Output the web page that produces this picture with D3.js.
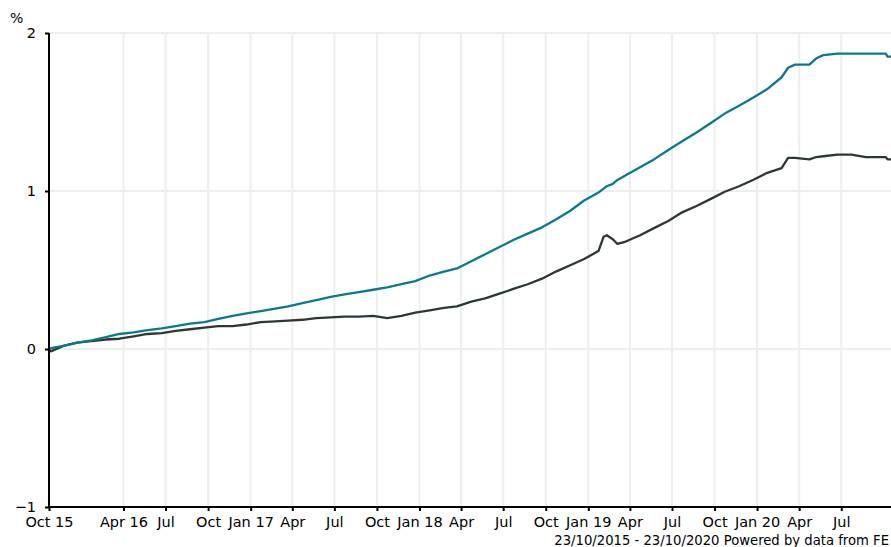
<!DOCTYPE html>
<html>
<head>
<meta charset="utf-8">
<script src="https://cdn.jsdelivr.net/npm/d3@7"></script>
<style>
  html, body { margin: 0; padding: 0; background: #fff; }
  svg { display: block; }
  text { font-family: "DejaVu Sans", Verdana, sans-serif; fill: #000; }
</style>
</head>
<body>
<svg id="chart" width="891" height="547"></svg>
<script>
// ---- data ----
const dates = [
  "2015-10-23","2015-10-27","2015-11-23","2015-12-23","2016-01-23","2016-02-23","2016-03-23",
  "2016-04-23","2016-05-23","2016-06-23","2016-07-23","2016-08-23","2016-09-23","2016-10-23",
  "2016-11-23","2016-12-23","2017-01-23","2017-02-23","2017-03-23","2017-04-23","2017-05-23",
  "2017-06-23","2017-07-23","2017-08-23","2017-09-23","2017-10-23","2017-11-23","2017-12-23",
  "2018-01-23","2018-02-23","2018-03-23","2018-04-23","2018-05-23","2018-06-23","2018-07-23",
  "2018-08-23","2018-09-23","2018-10-23","2018-11-23","2018-12-23","2019-01-23","2019-02-03",
  "2019-02-10","2019-02-23","2019-03-05","2019-03-23","2019-04-23","2019-05-23","2019-06-23",
  "2019-07-23","2019-08-23","2019-09-23","2019-10-23","2019-11-23","2019-12-23","2020-01-23",
  "2020-02-23","2020-03-08","2020-03-23","2020-04-23","2020-05-08","2020-05-23","2020-06-23",
  "2020-07-23","2020-08-23","2020-09-23","2020-10-05","2020-10-09","2020-10-23"
];
const tealValues = [
  0, 0.005, 0.02, 0.04, 0.055, 0.075, 0.095,
  0.105, 0.12, 0.13, 0.145, 0.16, 0.17, 0.19,
  0.21, 0.225, 0.24, 0.255, 0.27, 0.29, 0.31,
  0.33, 0.345, 0.36, 0.375, 0.39, 0.41, 0.43,
  0.465, 0.49, 0.51, 0.555, 0.60, 0.645, 0.69,
  0.73, 0.77, 0.82, 0.875, 0.94, 0.99, 1.015,
  1.03, 1.045, 1.07, 1.10, 1.15, 1.20, 1.26,
  1.315, 1.37, 1.43, 1.49, 1.54, 1.59, 1.645,
  1.72, 1.78, 1.80, 1.80, 1.84, 1.86, 1.87,
  1.87, 1.87, 1.87, 1.87, 1.85, 1.85
];
const darkValues = [
  0, -0.015, 0.02, 0.04, 0.05, 0.06, 0.065,
  0.08, 0.095, 0.10, 0.115, 0.125, 0.135, 0.145,
  0.145, 0.155, 0.17, 0.175, 0.18, 0.185, 0.195,
  0.20, 0.205, 0.205, 0.21, 0.195, 0.21, 0.23,
  0.245, 0.26, 0.27, 0.30, 0.32, 0.35, 0.38,
  0.41, 0.445, 0.49, 0.53, 0.57, 0.62, 0.71,
  0.72, 0.695, 0.665, 0.68, 0.72, 0.765, 0.81,
  0.865, 0.905, 0.95, 0.995, 1.03, 1.07, 1.115,
  1.145, 1.21, 1.21, 1.20, 1.215, 1.22, 1.23,
  1.23, 1.215, 1.215, 1.215, 1.20, 1.20
];
const yTicks = [-1, 0, 1, 2];
const xTickDates = [
  "2015-10-23","2016-04-01","2016-07-01","2016-10-01","2017-01-01","2017-04-01","2017-07-01",
  "2017-10-01","2018-01-01","2018-04-01","2018-07-01","2018-10-01","2019-01-01","2019-04-01",
  "2019-07-01","2019-10-01","2020-01-01","2020-04-01","2020-07-01"
];
const xTickLabels = [
  "Oct 15","Apr 16","Jul","Oct","Jan 17","Apr","Jul",
  "Oct","Jan 18","Apr","Jul","Oct","Jan 19","Apr",
  "Jul","Oct","Jan 20","Apr","Jul"
];
const domainStart = "2015-10-23", domainEnd = "2020-10-23";
const unitLabel = "%";
const footerText = "23/10/2015 - 23/10/2020 Powered by data from FE";
const seriesColors = ["#0a7a8c", "#2d3835"];

// ---- drawing ----
(function () {
const parse = d3.timeParse("%Y-%m-%d");
const svg = d3.select("#chart");
const mLeft = 49, mTop = 33, mBottom = 507, mRight = 894;
const fontFam = "DejaVu Sans, Verdana, sans-serif";

const x = d3.scaleTime().domain([parse(domainStart), parse(domainEnd)]).range([mLeft, mRight]);
const y = d3.scaleLinear().domain([-1, 2]).range([mBottom, mTop]);

const tickDates = xTickDates.map(parse);

// gridlines
const grid = svg.append("g");
grid.selectAll("line.v").data(tickDates.slice(1)).join("line")
  .attr("x1", d => x(d)).attr("x2", d => x(d))
  .attr("y1", mTop).attr("y2", mBottom)
  .attr("stroke", "#eeeeee").attr("stroke-width", 2);
grid.selectAll("line.h").data(yTicks.filter(v => v > -1)).join("line")
  .attr("x1", mLeft).attr("x2", 891)
  .attr("y1", d => y(d)).attr("y2", d => y(d))
  .attr("stroke", "#eeeeee").attr("stroke-width", 2);

// lines
const pts = (vals) => dates.map((d, i) => [parse(d), vals[i]]);
const line = d3.line().x(d => x(d[0])).y(d => y(d[1]));
[[darkValues, seriesColors[1]], [tealValues, seriesColors[0]]].forEach(([vals, col]) => {
  svg.append("path").datum(pts(vals))
    .attr("fill", "none")
    .attr("stroke", col)
    .attr("stroke-width", 2.3)
    .attr("stroke-linejoin", "round")
    .attr("d", line);
});

// y axis
const yAxis = d3.axisLeft(y).tickValues(yTicks).tickSize(4).tickFormat(d3.format("d"));
const yg = svg.append("g").attr("transform", `translate(${mLeft},0)`).call(yAxis);
yg.attr("font-size", null).attr("font-family", null);
yg.select(".domain").attr("stroke", "#000").attr("stroke-width", 2).attr("d", `M0,${mTop}V${mBottom}`);
yg.selectAll(".tick line").attr("stroke", "#000").attr("stroke-width", 2);
yg.selectAll(".tick text").attr("x", -13).attr("dy", "0.3em")
  .style("font-size", "14.5px").style("font-family", fontFam).attr("fill", "#000");

// x axis
const xAxis = d3.axisBottom(x).tickValues(tickDates).tickSize(4)
  .tickFormat((d, i) => xTickLabels[i]);
const xg = svg.append("g").attr("transform", `translate(0,${mBottom})`).call(xAxis);
xg.attr("font-size", null).attr("font-family", null);
xg.select(".domain").attr("stroke", "#000").attr("stroke-width", 2).attr("d", `M${mLeft},0H891`);
xg.selectAll(".tick line").attr("stroke", "#000").attr("stroke-width", 2);
xg.selectAll(".tick text").attr("y", 10)
  .style("font-size", "14.5px").style("font-family", fontFam).attr("fill", "#000");

// unit label
svg.append("text").attr("x", 10).attr("y", 23).style("font-size", "14px").text(unitLabel);

// footer
svg.append("text").attr("x", 889).attr("y", 545).attr("text-anchor", "end")
  .style("font-size", "13.2px").text(footerText);
})();
</script>
</body>
</html>
